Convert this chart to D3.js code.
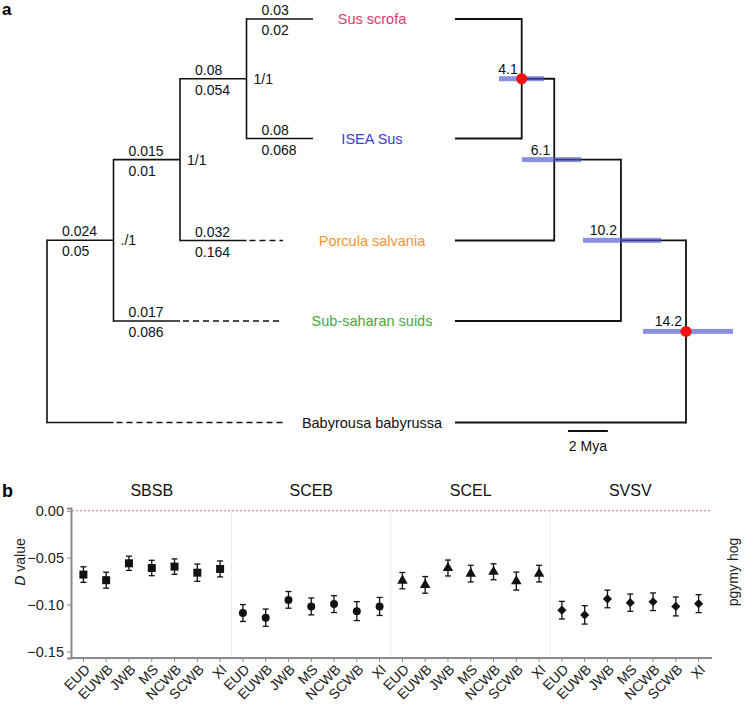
<!DOCTYPE html>
<html><head><meta charset="utf-8">
<script src="https://cdn.jsdelivr.net/npm/d3@7"></script>
<style>
body{margin:0;background:#fff;}
text{font-family:"Liberation Sans",Arial,Helvetica,sans-serif;}
</style>
</head><body>
<svg id="c" width="745" height="710"></svg>
<script>
// ---------------- DATA ----------------
const taxa = ["Sus scrofa","ISEA Sus","Porcula salvania","Sub-saharan suids","Babyrousa babyrussa"];
const taxonColors = ["#d93a6c","#3840d0","#f39433","#4aa83b","#111111"];
// tree topology
const treeData = {name:"root", children:[
  {name:"C", children:[
    {name:"B", children:[
      {name:"A", children:[{name:"Sus scrofa"},{name:"ISEA Sus"}]},
      {name:"Porcula salvania"}]},
    {name:"Sub-saharan suids"}]},
  {name:"Babyrousa babyrussa"}]};
// left tree branch annotations
const branchIds     = ["Sus scrofa","ISEA Sus","A","B","Porcula salvania","C","Sub-saharan suids"];
const branchTop     = ["0.03","0.08","0.08","0.015","0.032","0.024","0.017"];
const branchBottom  = ["0.02","0.068","0.054","0.01","0.164","0.05","0.086"];
const supportNodes  = ["A","B","C"];
const supportLabels = ["1/1","1/1","./1"];
// right tree: divergence times (Mya) with HPD intervals
const datedNodes = ["A","B","C","root"];
const nodeAges   = [4.1, 6.1, 10.2, 14.2];
const hpdLow     = [2.70, 4.12, 7.87, 11.56];
const hpdHigh    = [5.47, 7.75, 12.66, 17.09];
const calibrated = ["A","root"];
const scaleBarMy = 2.45, scaleBarLabel = "2 Mya";

// panel b
const groups = ["SBSB","SCEB","SCEL","SVSV"];
const pops = ["EUD","EUWB","JWB","MS","NCWB","SCWB","XI"];
const dSBSB = [-0.068,-0.074,-0.056,-0.061,-0.0595,-0.066,-0.062];
const eSBSB = [0.0083,0.0085,0.0076,0.0082,0.0082,0.0092,0.0085];
const dSCEB = [-0.109,-0.114,-0.095,-0.102,-0.0995,-0.107,-0.102];
const eSCEB = [0.0090,0.0092,0.0089,0.0090,0.0090,0.0101,0.0096];
const dSCEL = [-0.0745,-0.079,-0.061,-0.067,-0.065,-0.075,-0.067];
const eSCEL = [0.0087,0.0089,0.0085,0.0089,0.0085,0.0096,0.0089];
const dSVSV = [-0.106,-0.111,-0.094,-0.098,-0.097,-0.102,-0.099];
const eSVSV = [0.0094,0.0098,0.0094,0.0092,0.0094,0.0101,0.0096];
const yTicks = [0,-0.05,-0.10,-0.15];

// ---------------- DRAW ----------------
const svg = d3.select("#c");
const FS = 14;

svg.append("text").attr("x",2).attr("y",15).attr("font-size",17).attr("font-weight","bold").text("a");

const root = d3.hierarchy(treeData);
const tipY = d3.scaleLinear().domain([0,1,2,3,4]).range([19,138.5,240.5,321,422.5]);
const leaves = root.leaves();
leaves.forEach(l => l.y0 = tipY(taxa.indexOf(l.data.name)));
root.eachAfter(n => { if (n.children) n.y0 = d3.mean(n.children, c => c.y0); });
const byName = {}; root.each(n => byName[n.data.name] = n);

// ---- left cladogram ----
const xDepth = d3.scaleLinear().domain([0,4]).range([47,313]);
const dashEnd = 3.55;
const gL = svg.append("g").attr("fill","none").attr("stroke","#111").attr("stroke-width",1.6);
root.each(n => {
  if (n.children) {
    const ys = n.children.map(c => c.y0);
    gL.append("line").attr("x1",xDepth(n.depth)).attr("x2",xDepth(n.depth))
      .attr("y1",d3.min(ys)).attr("y2",d3.max(ys)).attr("stroke-linecap","square");
  }
  if (n.parent) {
    gL.append("line").attr("x1",xDepth(n.parent.depth)).attr("x2",xDepth(n.depth))
      .attr("y1",n.y0).attr("y2",n.y0);
  }
  if (!n.children && n.depth < 4) {
    gL.append("line").attr("x1",xDepth(n.depth)+3).attr("x2",xDepth(dashEnd))
      .attr("y1",n.y0).attr("y2",n.y0).attr("stroke-dasharray","6,4");
  }
});
branchIds.forEach((id,i) => {
  const n = byName[id];
  const x0 = xDepth(n.parent.depth) + 15;
  svg.append("text").attr("x",x0).attr("y",n.y0-4).attr("font-size",FS).attr("fill","#111").text(branchTop[i]);
  svg.append("text").attr("x",x0).attr("y",n.y0+16).attr("font-size",FS).attr("fill","#111").text(branchBottom[i]);
});
supportNodes.forEach((id,i) => {
  const n = byName[id];
  svg.append("text").attr("x",xDepth(n.depth)+7).attr("y",n.y0+5).attr("font-size",FS).attr("fill","#111").text(supportLabels[i]);
});

// taxon labels
taxa.forEach((t,i) => {
  svg.append("text").attr("x",372).attr("y",byName[t].y0+5).attr("text-anchor","middle")
    .attr("font-size",14.5).attr("fill",taxonColors[i]).text(t);
});

// ---- right chronogram ----
const xAge = d3.scaleLinear().domain([0,14.2]).range([455,686]);
const ageOf = {}; datedNodes.forEach((d,i)=> ageOf[d]=nodeAges[i]);
root.each(n => n.age = n.children ? ageOf[n.data.name] : 0);
const gR = svg.append("g").attr("fill","none").attr("stroke","#111").attr("stroke-width",1.8);
root.each(n => {
  if (n.children) {
    const ys = n.children.map(c => c.y0);
    gR.append("line").attr("x1",xAge(n.age)).attr("x2",xAge(n.age))
      .attr("y1",d3.min(ys)).attr("y2",d3.max(ys)).attr("stroke-linecap","square");
  }
  if (n.parent) {
    gR.append("line").attr("x1",xAge(n.age)).attr("x2",xAge(n.parent.age))
      .attr("y1",n.y0).attr("y2",n.y0);
  }
});
datedNodes.forEach((id,i) => {
  const n = byName[id];
  svg.append("rect").attr("x",xAge(hpdLow[i])).attr("width",xAge(hpdHigh[i])-xAge(hpdLow[i]))
    .attr("y",n.y0-2.5).attr("height",5).attr("fill","#4a55cc").attr("fill-opacity",0.65);
  svg.append("text").attr("x",xAge(nodeAges[i])-4).attr("y",n.y0-5).attr("text-anchor","end")
    .attr("font-size",FS).attr("fill","#111").text(nodeAges[i]);
});
calibrated.forEach(id => {
  const n = byName[id];
  svg.append("circle").attr("cx",xAge(n.age)).attr("cy",n.y0).attr("r",5.5).attr("fill","#ff1010");
});
// scale bar
svg.append("line").attr("x1",568).attr("x2",568 + xAge(scaleBarMy)-xAge(0)).attr("y1",431).attr("y2",431)
  .attr("stroke","#111").attr("stroke-width",1.8);
svg.append("text").attr("x",568 + (xAge(scaleBarMy)-xAge(0))/2).attr("y",451).attr("text-anchor","middle")
  .attr("font-size",FS).attr("fill","#111").text(scaleBarLabel);

// ---------------- PANEL B ----------------
svg.append("text").attr("x",2).attr("y",497).attr("font-size",18).attr("font-weight","bold").text("b");
const y = d3.scaleLinear().domain([-0.157,0.003]).range([658,508]);
const fx = d3.scaleBand().domain(groups).range([72,710]);
const px = d3.scalePoint().domain(pops).range([0,fx.bandwidth()]).padding(0.5);
const series = {SBSB:[dSBSB,eSBSB], SCEB:[dSCEB,eSCEB], SCEL:[dSCEL,eSCEL], SVSV:[dSVSV,eSVSV]};
const symbols = {SBSB:d3.symbolSquare, SCEB:d3.symbolCircle, SCEL:d3.symbolTriangle, SVSV:d3.symbolSquare};
const symSize = {SBSB:64, SCEB:50, SCEL:48, SVSV:42};
const symRot = {SBSB:0, SCEB:0, SCEL:0, SVSV:45};

// separators
groups.slice(1).forEach(g => {
  svg.append("line").attr("x1",fx(g)).attr("x2",fx(g)).attr("y1",y(0.003)).attr("y2",y(-0.157))
    .attr("stroke","#f1ede2").attr("stroke-width",1);
});
// zero line
svg.append("line").attr("x1",fx.range()[0]).attr("x2",fx.range()[1]).attr("y1",y(0)).attr("y2",y(0))
  .attr("stroke","#c47c7c").attr("stroke-width",1).attr("stroke-dasharray","2,2");

// facet titles
groups.forEach(g => {
  svg.append("text").attr("x",fx(g)+fx.bandwidth()/2).attr("y",496).attr("text-anchor","middle")
    .attr("font-size",16).attr("fill","#111").text(g);
});

// points + error bars
groups.forEach(g => {
  const [vals, errs] = series[g];
  const gg = svg.append("g");
  pops.forEach((p,i) => {
    const cx = fx(g) + px(p);
    gg.append("line").attr("x1",cx).attr("x2",cx).attr("y1",y(vals[i]+errs[i])).attr("y2",y(vals[i]-errs[i]))
      .attr("stroke","#111").attr("stroke-width",1.3);
    [vals[i]+errs[i], vals[i]-errs[i]].forEach(v => {
      gg.append("line").attr("x1",cx-3).attr("x2",cx+3).attr("y1",y(v)).attr("y2",y(v))
        .attr("stroke","#111").attr("stroke-width",1.3);
    });
    gg.append("path").attr("d",d3.symbol().type(symbols[g]).size(symSize[g])())
      .attr("transform",`translate(${cx},${y(vals[i])}) rotate(${symRot[g]})`).attr("fill","#111");
  });
});

// y axis
const yAxis = svg.append("g").attr("transform","translate(71,0)")
  .call(d3.axisLeft(y).tickValues(yTicks).tickSizeOuter(0).tickSize(4).tickFormat(d3.format(".2f")));
yAxis.select(".domain").attr("stroke","#8a8a8a").attr("stroke-width",2);
yAxis.selectAll(".tick line").attr("stroke","#8a8a8a");
yAxis.selectAll(".tick text").attr("font-size",14.5).attr("fill","#222").attr("font-family","Liberation Sans, Arial, sans-serif");

// x axis
const xg = svg.append("g");
xg.append("line").attr("x1",70).attr("x2",712).attr("y1",658).attr("y2",658).attr("stroke","#8a8a8a").attr("stroke-width",2);
groups.forEach(g => {
  pops.forEach(p => {
    const cx = fx(g)+px(p);
    xg.append("line").attr("x1",cx).attr("x2",cx).attr("y1",658).attr("y2",662).attr("stroke","#8a8a8a");
    xg.append("text").attr("transform",`translate(${cx+4},${667}) rotate(-45)`).attr("text-anchor","end")
      .attr("dy","0.35em").attr("font-size",14).attr("fill","#222").text(p);
  });
});

// axis titles
const yt = svg.append("text").attr("transform","translate(25,562) rotate(-90)").attr("text-anchor","middle")
  .attr("font-size",FS).attr("fill","#222");
yt.append("tspan").attr("font-style","italic").text("D");
yt.append("tspan").text(" value");
svg.append("text").attr("transform","translate(738,572) rotate(-90)").attr("text-anchor","middle")
  .attr("font-size",FS).attr("fill","#222").text("pgymy hog");
</script>
</body></html>
